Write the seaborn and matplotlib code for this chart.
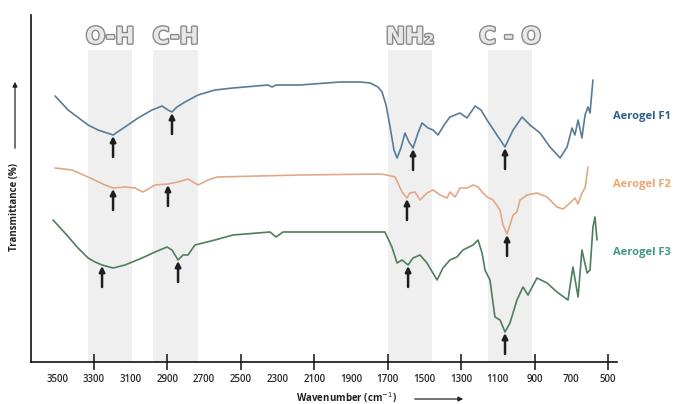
import numpy as np
import pandas as pd
import matplotlib
matplotlib.use("Agg")
import matplotlib.pyplot as plt
import matplotlib.patheffects as pe
import seaborn as sns

# ---------------- data ----------------
f1_wn = [3512, 3441, 3332, 3278, 3196, 3131, 3060, 2984, 2929, 2897, 2875, 2848, 2804, 2733,
         2641, 2543, 2352, 2330, 2308, 2178, 1960, 1851, 1796, 1753, 1731, 1709, 1687, 1666,
         1649, 1628, 1606, 1584, 1562, 1535, 1513, 1480, 1453, 1426, 1393, 1361, 1333, 1306,
         1268, 1224, 1192, 1159, 1105, 1061, 1017, 968, 925, 870, 816, 761, 723, 696, 680,
         663, 642, 625, 609, 598, 582]
f1_t = [266, 252, 237, 232, 227, 235, 244, 252, 256, 252, 250, 255, 260, 267,
        272, 274, 277, 275, 277, 277, 280, 280, 279, 275, 270, 257, 235, 212,
        204, 214, 229, 220, 214, 229, 239, 234, 232, 227, 237, 245, 247, 249,
        244, 256, 252, 242, 227, 215, 232, 245, 237, 229, 215, 204, 215, 234, 227,
        242, 224, 247, 255, 249, 282]

f2_wn = [3512, 3420, 3332, 3240, 3196, 3131, 3076, 3033, 2967, 2897, 2842, 2788, 2733, 2679,
         2630, 2178, 1742, 1704, 1660, 1622, 1595, 1579, 1551, 1524, 1486, 1453, 1415, 1377,
         1361, 1333, 1306, 1268, 1235, 1208, 1181, 1159, 1126, 1088, 1072, 1050, 1034, 1017,
         996, 979, 941, 887, 832, 778, 745, 707, 680, 663, 642, 625, 609]
f2_t = [194, 192, 185, 177, 174, 175, 174, 170, 177, 178, 180, 183, 177, 182,
        185, 187, 188, 187, 185, 170, 164, 169, 170, 162, 169, 172, 167, 164,
        170, 165, 174, 174, 177, 175, 169, 165, 162, 152, 137, 128, 137, 147,
        150, 162, 167, 169, 165, 155, 153, 159, 164, 158, 169, 174, 195]

f3_wn = [3523, 3458, 3387, 3332, 3294, 3256, 3196, 3131, 3038, 2967, 2902, 2875, 2842, 2815,
         2788, 2750, 2641, 2543, 2341, 2308, 2270, 1998, 1758, 1715, 1677, 1649, 1622, 1589,
         1562, 1524, 1486, 1431, 1399, 1361, 1323, 1290, 1235, 1208, 1186, 1170, 1143, 1116,
         1088, 1061, 1034, 996, 963, 936, 887, 832, 778, 718, 691, 663, 642, 614, 598, 582,
         571, 560]
f3_t = [142, 129, 114, 104, 100, 97, 94, 97, 104, 110, 115, 112, 102, 107,
        107, 117, 122, 127, 130, 125, 130, 130, 130, 130, 115, 99, 102, 97,
        104, 107, 99, 82, 94, 102, 105, 112, 117, 122, 109, 92, 82, 45,
        42, 30, 39, 62, 75, 67, 84, 79, 70, 62, 95, 65, 112, 89, 92, 135,
        145, 122]

series_names = ["Aerogel F1", "Aerogel F2", "Aerogel F3"]
line_colors = ["#587c98", "#e2a887", "#4e7e5c"]
label_colors = ["#2f5d89", "#f0a46e", "#3f9984"]

band_ranges = [(3332, 3093), (2978, 2733), (1698, 1459), (1154, 914)]
band_labels = ["O-H", "C-H", "NH\u2082", "C - O"]

# arrow wavenumbers per series (O-H, C-H, NH2, C-O)
arrow_wn = [[3196, 2875, 1562, 1061],
            [3196, 2897, 1595, 1050],
            [3256, 2842, 1589, 1061]]

tick_labels = [3500, 3300, 3100, 2900, 2700, 2500, 2300, 2100, 1900,
               1700, 1500, 1300, 1100, 900, 700, 500]
tick_marks = [3300, 2900, 2500, 2100, 1700, 1300, 900, 500]

# ---------------- figure ----------------
sns.set_style("white")
plt.rcParams["font.family"] = ["Open Sans", "DejaVu Sans"]

W, H = 689, 404
fig = plt.figure(figsize=(W / 100, H / 100), dpi=100)
ax = fig.add_axes([31 / W, 1 - 362 / H, (617 - 31) / W, (362 - 15) / H])

xs = [f1_wn, f2_wn, f3_wn]
ys = [f1_t, f2_t, f3_t]
frames = []
for name, x, y in zip(series_names, xs, ys):
    frames.append(pd.DataFrame({"wn": x, "t": y, "series": name}))
df = pd.concat(frames, ignore_index=True)

# bands
for (a, b) in band_ranges:
    ax.axvspan(b, a, ymin=0, ymax=(362 - 50) / 347, color="#efefef", lw=0, zorder=0)

sns.lineplot(data=df, x="wn", y="t", hue="series", palette=line_colors,
             estimator=None, sort=True, lw=1.2, legend=False, ax=ax, zorder=3)

ax.set_xlim(3643, 451)
ax.set_ylim(0, 347)

# band labels
for (a, b), lab in zip(band_ranges, band_labels):
    ax.text((a + b) / 2, (362 - 37) / 347, lab, transform=ax.get_xaxis_transform(),
            ha="center", va="center", fontsize=16.5, fontweight="bold",
            family=["DejaVu Sans"], color="#e8e8e8",
            path_effects=[pe.withStroke(linewidth=2.0, foreground="#8a8a8a")])

# arrows
for x, y, wl in zip(xs, ys, arrow_wn):
    xa = np.array(x[::-1], float)
    ya = np.array(y[::-1], float)
    for w in wl:
        tip = np.interp(w, xa, ya) - 1
        ax.annotate("", xy=(w, tip), xytext=(w, tip - 21),
                    arrowprops=dict(arrowstyle="-|>", color="#1e1e1e", lw=1.8,
                                    mutation_scale=8, shrinkA=0, shrinkB=0),
                    zorder=5)

# axes styling
for s in ["top", "right"]:
    ax.spines[s].set_visible(False)
for s in ["left", "bottom"]:
    ax.spines[s].set_color("#111111")
    ax.spines[s].set_linewidth(1.2)
ax.set_yticks([])
ax.xaxis.remove_overlapping_locs = False
ax.set_xticks(tick_labels)
ax.set_xticklabels([str(t) for t in tick_labels], fontsize=7, fontweight="semibold",
                   color="#2a2a2a")
ax.set_xticks(tick_marks, minor=True)
ax.tick_params(axis="x", which="major", bottom=True, length=0, pad=9)
ax.tick_params(axis="x", which="minor", bottom=True, direction="inout", length=11,
               width=1.1, color="#111111")
ax.set_xlabel("")
ax.set_ylabel("")

# series labels
for name, col, yy in zip(series_names, label_colors, [116, 185, 252]):
    fig.text(613 / W, 1 - yy / H, name, ha="left", va="center", fontsize=8,
             fontweight="bold", color=col)

# axis titles with arrows
fig.text(347 / W, 1 - 398 / H, "Wavenumber (cm$^{-1}$)", ha="center", va="center",
         fontsize=7, fontweight="bold", color="#222222")
fig.add_artist(matplotlib.patches.FancyArrowPatch(
    (412 / W, 1 - 399 / H), (466 / W, 1 - 399 / H), transform=fig.transFigure,
    arrowstyle="-|>", mutation_scale=7, lw=0.9, color="#222222"))

fig.text(15 / W, 1 - 207 / H, "Transmittance (%)", ha="center", va="center",
         rotation=90, fontsize=7, fontweight="bold", color="#222222")
fig.add_artist(matplotlib.patches.FancyArrowPatch(
    (15 / W, 1 - 151 / H), (15 / W, 1 - 79 / H), transform=fig.transFigure,
    arrowstyle="-|>", mutation_scale=7, lw=0.9, color="#222222"))

fig.savefig("out.png", dpi=100)
